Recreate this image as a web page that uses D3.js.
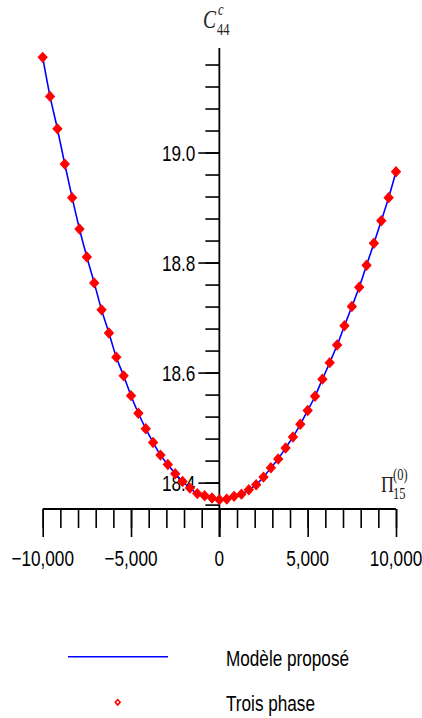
<!DOCTYPE html>
<html>
<head>
<meta charset="utf-8">
<script src="https://cdn.jsdelivr.net/npm/d3@7"></script>
<style>
body { margin: 0; background: #fff; }
svg { display: block; }
.lbl { font-family: "Liberation Sans", Arial, sans-serif; font-size: 22px; fill: #000; }
.math { font-family: "Liberation Serif", "Times New Roman", serif; fill: #222; }
</style>
</head>
<body>
<div id="graph"></div>
<script>
// data
const xVals = [-10000, -9583, -9167, -8750, -8333, -7917, -7500, -7083, -6667, -6250, -5833, -5417,
  -5000, -4583, -4167, -3750, -3333, -2917, -2500, -2083, -1667, -1250, -833, -417, 0,
  417, 833, 1250, 1667, 2083, 2500, 2917, 3333, 3750, 4167, 4583, 5000, 5417, 5833, 6250,
  6667, 7083, 7500, 7917, 8333, 8750, 9167, 9583, 10000];
const yVals = [19.173, 19.102, 19.043, 18.979, 18.918, 18.861, 18.810, 18.763, 18.714, 18.672, 18.628, 18.594,
  18.558, 18.526, 18.498, 18.473, 18.450, 18.433, 18.416, 18.402, 18.390, 18.380, 18.376, 18.372, 18.369,
  18.370, 18.375, 18.379, 18.387, 18.396, 18.410, 18.427, 18.443, 18.463, 18.483, 18.506, 18.531, 18.557, 18.588, 18.618,
  18.650, 18.685, 18.720, 18.755, 18.795, 18.835, 18.876, 18.918, 18.965];
const xDomain = [-10000, 10000];
const yDomain = [18.352, 19.19];
const xMinorTicks = d3.range(-10000, 10001, 1000);
const xMajorTicks = [-10000, -5000, 0, 5000, 10000];
const xTickLabels = ["\u221210,000", "\u22125,000", "0", "5,000", "10,000"];
const yMinorTicks = d3.range(18.36, 19.17, 0.04);
const yMajorTicks = [18.4, 18.6, 18.8, 19.0];
const yTickLabels = ["18.4", "18.6", "18.8", "19.0"];
const legendLabels = ["Modèle proposé", "Trois phase"];

var width = 422, height = 718;
var squeeze = 0.78; // text in the picture is narrower than it is tall

var svg = d3.select('#graph').append('svg')
  .attr('width', width).attr('height', height);
svg.append('rect').attr('width', width).attr('height', height).attr('fill', '#fff');

var xScale = d3.scaleLinear().domain(xDomain).range([42.7, 396]);
var yScale = d3.scaleLinear().domain(yDomain).range([509, 48]);
var x0 = xScale(0), yBase = yScale(yDomain[0]);

// squeezed text helper
function label(x, y, txt, anchor, cls, size) {
  var g = svg.append('g').attr('transform', 'translate(' + x + ',' + y + ') scale(' + squeeze + ',1)');
  var t = g.append('text').attr('class', cls || 'lbl').attr('text-anchor', anchor || 'start').text(txt);
  if (size) t.attr('font-size', size);
  return t;
}

// x axis: minor + major ticks
var axisStyle = function(g) {
  g.select('.domain').remove();
  g.selectAll('line').attr('stroke', '#000').attr('stroke-width', 1.6);
};
svg.append('g').attr('transform', 'translate(0,' + yBase + ')')
  .call(d3.axisBottom(xScale).tickValues(xMinorTicks).tickSize(19).tickFormat('')).call(axisStyle);
svg.append('g').attr('transform', 'translate(0,' + yBase + ')')
  .call(d3.axisBottom(xScale).tickValues(xMajorTicks).tickSize(28).tickFormat('')).call(axisStyle);
svg.append('line').attr('x1', xScale(xDomain[0])).attr('x2', xScale(xDomain[1]))
  .attr('y1', yBase).attr('y2', yBase).attr('stroke', '#000').attr('stroke-width', 1.8);

// y axis
svg.append('g').attr('transform', 'translate(' + x0 + ',0)')
  .call(d3.axisLeft(yScale).tickValues(yMinorTicks).tickSize(14).tickFormat('')).call(axisStyle);
svg.append('g').attr('transform', 'translate(' + x0 + ',0)')
  .call(d3.axisLeft(yScale).tickValues(yMajorTicks).tickSize(21).tickFormat('')).call(axisStyle);
svg.append('line').attr('x1', x0).attr('x2', x0)
  .attr('y1', yScale(yDomain[1])).attr('y2', yBase + 28).attr('stroke', '#000').attr('stroke-width', 1.8);

// tick labels
xMajorTicks.forEach(function(v, i) { label(xScale(v), yBase + 57, xTickLabels[i], 'middle'); });
yMajorTicks.forEach(function(v, i) { label(x0 - 24, yScale(v) + 8, yTickLabels[i], 'end'); });

// axis titles (sub/superscripts placed by hand)
label(203, 28, 'C', 'start', 'math', 25).attr('font-style', 'italic');
label(218, 15, 'c', 'start', 'math', 16).attr('font-style', 'italic');
label(217, 35, '44', 'start', 'math', 16);
label(381, 492, '\u03A0', 'start', 'math', 23);
label(393, 480, '(0)', 'start', 'math', 16);
label(393, 499, '15', 'start', 'math', 16);

// curve
var line = d3.line().x(function(d) { return xScale(d[0]); }).y(function(d) { return yScale(d[1]); })
  .curve(d3.curveCatmullRom);
var pts = xVals.map(function(x, i) { return [x, yVals[i]]; });
svg.append('path').attr('d', line(pts)).attr('fill', 'none').attr('stroke', '#0000ff').attr('stroke-width', 1.6);

// markers
var diamond = d3.symbol().type(d3.symbolSquare).size(40);
svg.selectAll('.pt').data(pts).enter().append('path').attr('class', 'pt')
  .attr('d', diamond)
  .attr('transform', function(d) { return 'translate(' + xScale(d[0]) + ',' + yScale(d[1]) + ') scale(1,1.1) rotate(45)'; })
  .attr('fill', '#ff0000').attr('stroke', '#ff0000').attr('stroke-width', 1);

// legend
svg.append('line').attr('x1', 68).attr('x2', 168).attr('y1', 656.7).attr('y2', 656.7)
  .attr('stroke', '#0000ff').attr('stroke-width', 1.6);
svg.append('path').attr('d', d3.symbol().type(d3.symbolSquare).size(12))
  .attr('transform', 'translate(117.7,702.3) scale(1,1.1) rotate(45)')
  .attr('fill', '#fff').attr('stroke', '#ff0000').attr('stroke-width', 1.5);
label(226, 665.7, legendLabels[0], 'start');
label(226, 711, legendLabels[1], 'start');
</script>
</body>
</html>
